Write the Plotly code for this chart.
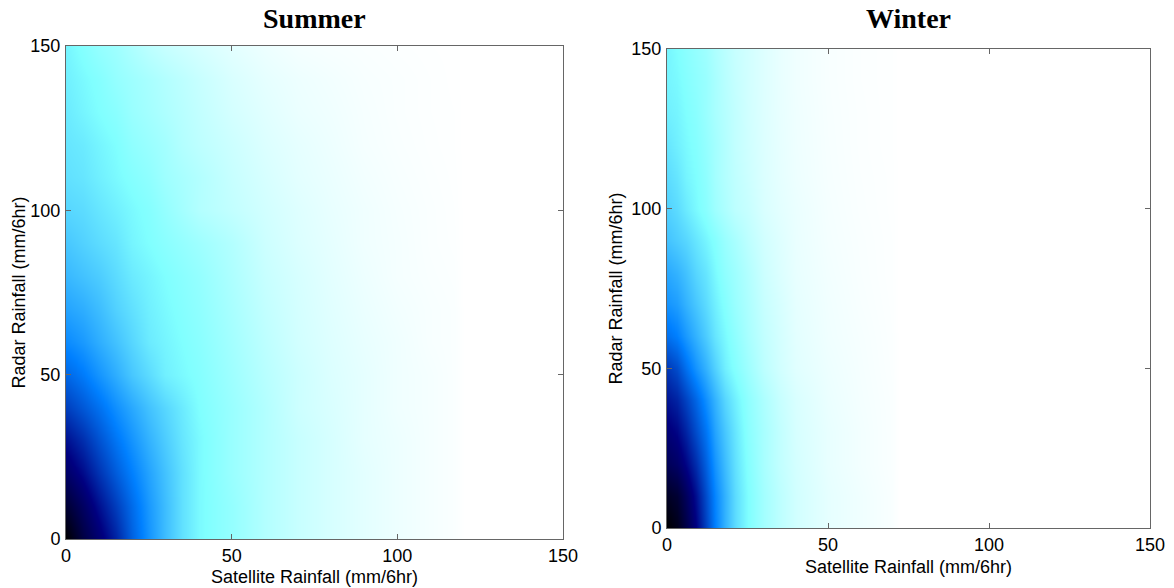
import plotly.graph_objects as go

# ---------------- data (estimated darkness level 0..1) -------------
summer_x = [0, 5, 10, 15, 20, 25, 30, 35, 40, 50, 60, 70, 80, 90, 100, 110, 117, 120, 150]
summer_y = [0, 10, 20, 30, 40, 50, 60, 70, 80, 90, 100, 110, 120, 130, 140, 150]
summer_z = [
    [1.00, 0.87, 0.78, 0.68, 0.56, 0.46, 0.38, 0.31, 0.26, 0.21, 0.15, 0.11, 0.08, 0.055, 0.035, 0.02, 0.01, 0, 0],
    [0.90, 0.81, 0.72, 0.63, 0.54, 0.45, 0.38, 0.31, 0.26, 0.21, 0.15, 0.11, 0.08, 0.055, 0.035, 0.02, 0.01, 0, 0],
    [0.80, 0.73, 0.65, 0.57, 0.50, 0.43, 0.37, 0.31, 0.26, 0.20, 0.15, 0.11, 0.08, 0.055, 0.035, 0.02, 0.01, 0, 0],
    [0.72, 0.66, 0.59, 0.52, 0.46, 0.40, 0.35, 0.30, 0.26, 0.20, 0.15, 0.11, 0.08, 0.05, 0.035, 0.02, 0.01, 0, 0],
    [0.63, 0.58, 0.53, 0.47, 0.42, 0.37, 0.33, 0.29, 0.25, 0.20, 0.15, 0.10, 0.075, 0.05, 0.03, 0.02, 0.01, 0, 0],
    [0.55, 0.51, 0.46, 0.41, 0.36, 0.32, 0.28, 0.26, 0.24, 0.19, 0.14, 0.10, 0.07, 0.05, 0.03, 0.02, 0.01, 0, 0],
    [0.48, 0.45, 0.41, 0.37, 0.33, 0.29, 0.27, 0.25, 0.23, 0.18, 0.13, 0.09, 0.065, 0.045, 0.03, 0.015, 0.01, 0, 0],
    [0.43, 0.41, 0.38, 0.34, 0.31, 0.28, 0.26, 0.24, 0.22, 0.17, 0.12, 0.085, 0.06, 0.04, 0.025, 0.015, 0.01, 0, 0],
    [0.39, 0.37, 0.35, 0.32, 0.29, 0.27, 0.25, 0.23, 0.21, 0.16, 0.11, 0.08, 0.055, 0.035, 0.02, 0.012, 0.008, 0, 0],
    [0.36, 0.34, 0.32, 0.30, 0.27, 0.25, 0.23, 0.21, 0.19, 0.15, 0.10, 0.07, 0.05, 0.03, 0.02, 0.01, 0.006, 0, 0],
    [0.33, 0.32, 0.30, 0.28, 0.26, 0.24, 0.21, 0.18, 0.15, 0.12, 0.09, 0.065, 0.045, 0.03, 0.018, 0.01, 0.005, 0, 0],
    [0.31, 0.30, 0.28, 0.26, 0.24, 0.22, 0.19, 0.17, 0.15, 0.11, 0.08, 0.055, 0.04, 0.025, 0.015, 0.008, 0.004, 0, 0],
    [0.30, 0.29, 0.27, 0.25, 0.22, 0.20, 0.18, 0.15, 0.13, 0.10, 0.07, 0.05, 0.035, 0.02, 0.012, 0.006, 0.003, 0, 0],
    [0.29, 0.27, 0.25, 0.23, 0.20, 0.18, 0.16, 0.14, 0.12, 0.085, 0.06, 0.04, 0.03, 0.018, 0.01, 0.005, 0.003, 0, 0],
    [0.28, 0.26, 0.24, 0.21, 0.19, 0.17, 0.15, 0.13, 0.11, 0.075, 0.05, 0.035, 0.025, 0.015, 0.01, 0.005, 0.002, 0, 0],
    [0.27, 0.24, 0.21, 0.19, 0.16, 0.13, 0.11, 0.095, 0.08, 0.055, 0.035, 0.02, 0.014, 0.01, 0.006, 0.003, 0.002, 0, 0],
]

winter_x = [0, 3, 6, 9, 12, 15, 18, 21, 25, 30, 35, 40, 50, 60, 70, 72, 150]
winter_y = [0, 10, 20, 30, 40, 50, 60, 70, 80, 90, 100, 110, 120, 130, 140, 150]
winter_z = [
    [1.00, 0.95, 0.86, 0.75, 0.62, 0.50, 0.40, 0.32, 0.25, 0.18, 0.13, 0.09, 0.05, 0.03, 0.012, 0, 0],
    [0.93, 0.90, 0.82, 0.72, 0.60, 0.49, 0.40, 0.32, 0.25, 0.18, 0.13, 0.09, 0.05, 0.03, 0.012, 0, 0],
    [0.83, 0.80, 0.74, 0.66, 0.56, 0.46, 0.38, 0.31, 0.24, 0.17, 0.12, 0.085, 0.045, 0.025, 0.01, 0, 0],
    [0.77, 0.74, 0.68, 0.60, 0.52, 0.43, 0.36, 0.30, 0.23, 0.17, 0.12, 0.08, 0.045, 0.025, 0.01, 0, 0],
    [0.71, 0.68, 0.62, 0.55, 0.47, 0.40, 0.33, 0.28, 0.22, 0.16, 0.11, 0.075, 0.04, 0.022, 0.01, 0, 0],
    [0.64, 0.60, 0.53, 0.46, 0.40, 0.34, 0.28, 0.24, 0.19, 0.13, 0.09, 0.06, 0.035, 0.02, 0.008, 0, 0],
    [0.53, 0.50, 0.45, 0.40, 0.35, 0.30, 0.26, 0.22, 0.17, 0.12, 0.085, 0.055, 0.03, 0.018, 0.007, 0, 0],
    [0.46, 0.44, 0.40, 0.36, 0.32, 0.28, 0.24, 0.20, 0.16, 0.11, 0.08, 0.05, 0.028, 0.015, 0.006, 0, 0],
    [0.42, 0.40, 0.37, 0.33, 0.30, 0.26, 0.22, 0.19, 0.15, 0.10, 0.07, 0.045, 0.025, 0.013, 0.005, 0, 0],
    [0.37, 0.35, 0.33, 0.30, 0.27, 0.24, 0.20, 0.17, 0.13, 0.09, 0.065, 0.042, 0.022, 0.012, 0.005, 0, 0],
    [0.34, 0.32, 0.29, 0.26, 0.23, 0.19, 0.16, 0.13, 0.11, 0.075, 0.055, 0.04, 0.02, 0.01, 0.004, 0, 0],
    [0.32, 0.30, 0.27, 0.25, 0.22, 0.18, 0.15, 0.125, 0.10, 0.07, 0.05, 0.035, 0.018, 0.009, 0.004, 0, 0],
    [0.30, 0.28, 0.26, 0.24, 0.21, 0.18, 0.15, 0.12, 0.095, 0.068, 0.048, 0.033, 0.017, 0.008, 0.003, 0, 0],
    [0.28, 0.27, 0.25, 0.23, 0.20, 0.17, 0.145, 0.12, 0.092, 0.066, 0.046, 0.032, 0.016, 0.008, 0.003, 0, 0],
    [0.27, 0.26, 0.24, 0.22, 0.20, 0.17, 0.14, 0.115, 0.09, 0.065, 0.045, 0.03, 0.015, 0.007, 0.003, 0, 0],
    [0.27, 0.25, 0.23, 0.21, 0.19, 0.16, 0.135, 0.11, 0.09, 0.065, 0.045, 0.03, 0.015, 0.007, 0.003, 0, 0],
]

tick_vals = [0, 50, 100, 150]
tick_text = ["0", "50", "100", "150"]
titles = ["Summer", "Winter"]
x_label = "Satellite Rainfall (mm/6hr)"
y_label = "Radar Rainfall (mm/6hr)"

# ---------------- figure -------------------------------------------------------------
W, H = 1174, 588
colorscale = [
    [0.0, "rgb(255,255,255)"],
    [0.25, "rgb(128,255,255)"],
    [0.5, "rgb(0,128,255)"],
    [0.75, "rgb(0,0,128)"],
    [1.0, "rgb(0,0,0)"],
]

fig = go.Figure()
fig.add_trace(go.Heatmap(x=summer_x, y=summer_y, z=summer_z, colorscale=colorscale,
                         zmin=0, zmax=1, zsmooth="best", showscale=False,
                         xaxis="x", yaxis="y", hoverinfo="skip"))
fig.add_trace(go.Heatmap(x=winter_x, y=winter_y, z=winter_z, colorscale=colorscale,
                         zmin=0, zmax=1, zsmooth="best", showscale=False,
                         xaxis="x2", yaxis="y2", hoverinfo="skip"))

# pixel boxes of the two plot areas
boxes = [(66, 563, 46, 539), (667, 1150, 49, 528)]


def px_x(p):
    return p / W


def px_y(p):
    return 1 - p / H


tick_font = dict(family="Liberation Sans, Arial, sans-serif", size=18, color="black")
axis_common = dict(range=[0, 150], tickvals=tick_vals, ticktext=tick_text,
                   showgrid=False, zeroline=False, showline=True, mirror="ticks",
                   linecolor="#666", linewidth=1, ticks="inside", ticklen=5,
                   tickcolor="#666", tickfont=tick_font, automargin=False)

layout = dict(width=W, height=H, margin=dict(l=0, r=0, t=0, b=0, autoexpand=False),
              paper_bgcolor="white", plot_bgcolor="white", showlegend=False)
for i, (l, r, t, b) in enumerate(boxes):
    sx = "" if i == 0 else "2"
    layout["xaxis" + sx] = dict(domain=[px_x(l), px_x(r)], anchor="y" + sx,
                                ticklabelstandoff=0, **axis_common)
    layout["yaxis" + sx] = dict(domain=[px_y(b), px_y(t)], anchor="x" + sx,
                                ticklabelstandoff=1, **axis_common)
fig.update_layout(**layout)

annotations = []
title_y = [19, 19]
xlab_y = [577, 567]
ylab_x = [18, 615]
for i, (l, r, t, b) in enumerate(boxes):
    cx = (l + r) / 2
    annotations.append(dict(text="<b>%s</b>" % titles[i], x=px_x(cx), y=px_y(title_y[i]),
                            xref="paper", yref="paper", showarrow=False,
                            xanchor="center", yanchor="middle",
                            font=dict(family="Liberation Serif, Times New Roman, serif",
                                      size=28, color="black")))
    annotations.append(dict(text=x_label, x=px_x(cx), y=px_y(xlab_y[i]),
                            xref="paper", yref="paper", showarrow=False,
                            xanchor="center", yanchor="middle",
                            font=dict(family="Liberation Sans, Arial, sans-serif",
                                      size=18, color="black")))
    annotations.append(dict(text=y_label, x=px_x(ylab_x[i]), y=px_y((t + b) / 2),
                            xref="paper", yref="paper", showarrow=False, textangle=-90,
                            xanchor="center", yanchor="middle",
                            font=dict(family="Liberation Sans, Arial, sans-serif",
                                      size=18, color="black")))
fig.update_layout(annotations=annotations)

fig.write_html("out.html")
